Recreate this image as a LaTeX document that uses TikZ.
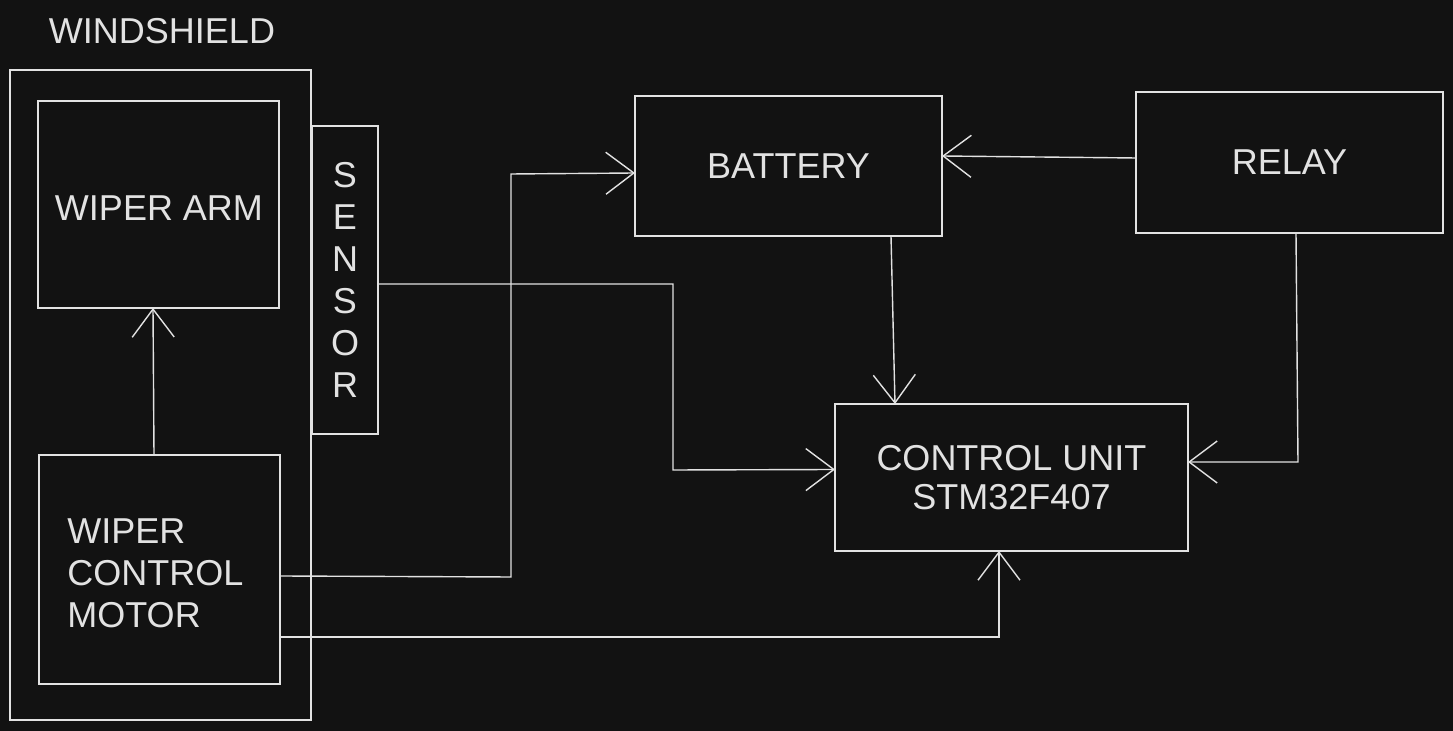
\documentclass[tikz,border=0pt]{standalone}
\usepackage{fontspec}
\setmainfont{Liberation Sans}
\usetikzlibrary{arrows.meta}
\definecolor{bg}{HTML}{121212}
\definecolor{ink}{HTML}{E2E2E2}
\begin{document}
\begin{tikzpicture}[x=0.5pt,y=-0.5pt,
  every node/.style={text=ink,font=\fontsize{18}{21}\selectfont},
  box/.style={draw=ink,line width=0.8pt,inner sep=0pt,outer sep=0pt,rectangle},
  wire/.style={draw=ink,line width=0.7pt},
  arr/.style={wire,-{Straight Barb[length=14pt,width=21pt,line width=0.7pt]}}]
\fill[bg] (0,0) rectangle (1453,731);
\useasboundingbox (0,0) rectangle (1453,731);
% boxes
\node[box,minimum width=150.5pt,minimum height=325pt] (wind) at (160.5,395) {};
\node (windlbl) at (162,31) {WINDSHIELD};
\node[box,minimum width=120.5pt,minimum height=103.5pt] (arm) at (158.5,204.5) {};
\node (armlbl) at (159,208) {WIPER ARM};
\node[box,minimum width=33pt,minimum height=154pt,align=center,font=\fontsize{18}{21}\selectfont] (sensor) at (345,280) {S\\E\\N\\S\\O\\R};
\node[box,minimum width=120.5pt,minimum height=114.5pt] (motor) at (159.5,569.5) {};
\node[anchor=west,align=left,inner sep=0pt] (motorlbl) at (67,573) {WIPER\\CONTROL\\MOTOR};
\node[box,minimum width=153.5pt,minimum height=70pt] (battery) at (788.5,166) {BATTERY};
\node[box,minimum width=153.5pt,minimum height=70.5pt] (relay) at (1289.5,162.5) {RELAY};
\node[box,minimum width=176.5pt,minimum height=73.5pt,align=center,font=\fontsize{18}{19.5}\selectfont] (control) at (1011.5,477.5) {CONTROL UNIT\\STM32F407};
% bend points
\coordinate (s1) at (673,284);
\coordinate (s2) at (673,470);
\coordinate (m1) at (511,577);
\coordinate (m2) at (511,174);
\coordinate (b1) at (999,637);
\coordinate (r1) at (1298,462);
% connectors
\draw[arr] ([xshift=-2.75pt]motor.north) -- ([xshift=-2.75pt]arm.south);
\draw[arr] ([yshift=-2pt]sensor.east) -- (s1) -- (s2) -- ([yshift=4pt]control.west);
\draw[arr] ([yshift=-3.25pt]motor.east) -- (m1) -- (m2) -- ([yshift=-3.5pt]battery.west);
\draw[arr] ([yshift=-33.75pt]motor.east) -- (b1) -- ([xshift=-6.25pt]control.south);
\draw[arr] ([xshift=51.25pt]battery.south) -- ([xshift=-58.25pt]control.north);
\draw[arr] ([yshift=2.25pt]relay.west) -- ([yshift=5pt]battery.east);
\draw[arr] ([xshift=3.25pt]relay.south) -- (r1) -- ([yshift=7.75pt]control.east);
\end{tikzpicture}
\end{document}
